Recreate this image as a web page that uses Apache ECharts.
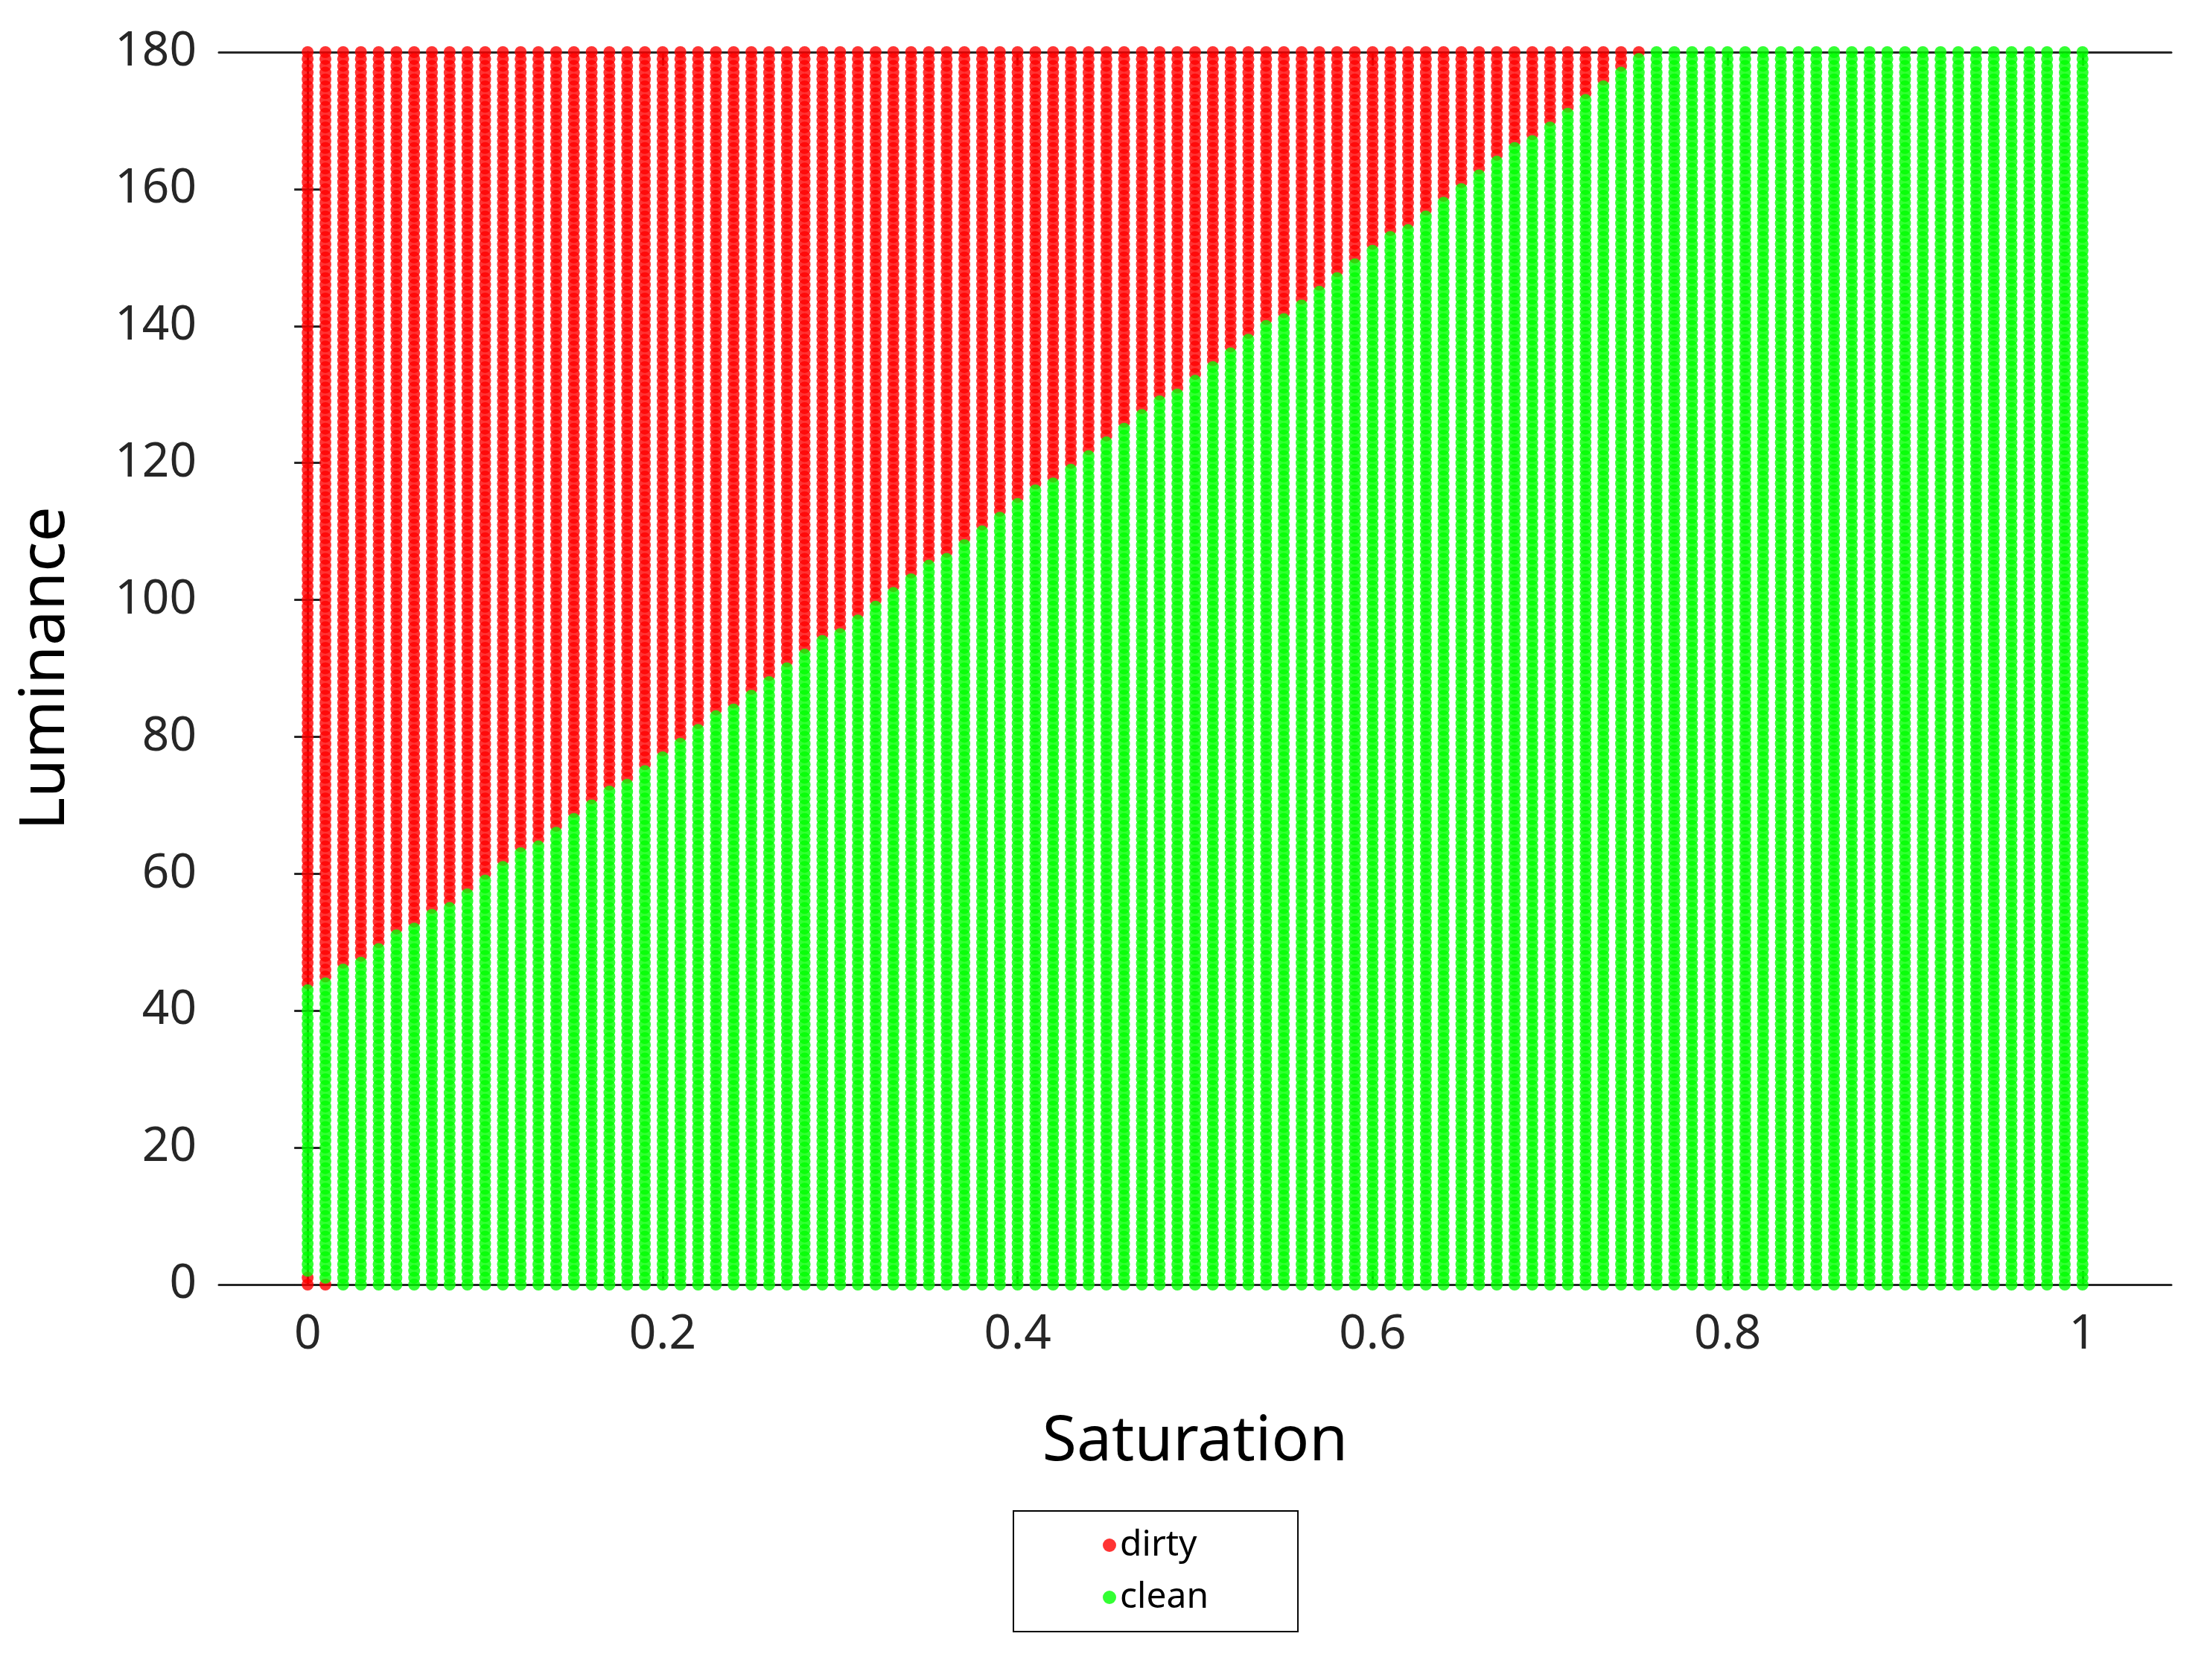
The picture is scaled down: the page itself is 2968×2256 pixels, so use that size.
<!DOCTYPE html>
<html>
<head>
<meta charset="utf-8">
<script src="https://cdn.jsdelivr.net/npm/echarts@6/dist/echarts.min.js"></script>
<style>
    html, body { margin: 0; background: #fff; }
    #main { width: 2968px; height: 2256px; }
</style>
</head>
<body>
<div id="main"></div>
<script type="text/javascript">
    // saturation columns 0, 0.01 ... 1
    var saturation = [];
    for (var i = 0; i <= 100; i++) saturation.push(+(i / 100).toFixed(2));
    // luminance sampled every 1 unit from 0 to 180
    var luminance = [];
    for (var j = 0; j <= 180; j++) luminance.push(j);

    // per column: points above this luminance are dirty
    var upperLimit = [
        43.5, 44.5, 46, 47.5, 49, 51, 52.5, 54, 55.5, 57.5,
        59.5, 61, 63, 64.5, 66.5, 68.5, 70, 72, 73.5, 75.5,
        77.5, 79, 81, 83, 84.5, 86.5, 88.5, 90, 92, 94,
        95.5, 97.5, 99.5, 101, 103, 105, 106.5, 108.5, 110.5, 112,
        114, 116, 117.5, 119.5, 121.5, 123, 125, 127, 129, 130.5,
        132.5, 134, 136, 138, 140, 141.5, 143.5, 145.5, 147, 149,
        151, 153, 154.5, 156.5, 158.5, 160, 162, 164, 166, 167.5,
        169.5, 171, 173, 175, 177, 179, 181, 181, 181, 181,
        181, 181, 181, 181, 181, 181, 181, 181, 181, 181,
        181, 181, 181, 181, 181, 181, 181, 181, 181, 181,
        181
    ];
    // per column: points below this luminance are dirty too (only first two columns)
    var lowerLimit = [1.5, 0.5];

    var xTicks = [0, 0.2, 0.4, 0.6, 0.8, 1];
    var yTicks = [0, 20, 40, 60, 80, 100, 120, 140, 160, 180];

    var dirty = [], clean = [];
    saturation.forEach(function (s, i) {
        luminance.forEach(function (l) {
            var low = lowerLimit[i] || 0;
            if (l > upperLimit[i] || l < low) dirty.push([s, l]);
            else clean.push([s, l]);
        });
    });

    var myChart = echarts.init(document.getElementById('main'));
    var font = 'Noto Sans';
    var lineCol = '#262626';

    option = {
        animation: false,
        textStyle: { fontFamily: font },
        grid: { left: 294, right: 52, top: 70, bottom: 531, containLabel: false },
        legend: {
            orient: 'vertical',
            left: 1361,
            top: 2029,
            width: 497,
            itemGap: 22,
            padding: [22, 120, 22, 120],
            borderColor: '#000',
            borderWidth: 2,
            icon: 'circle',
            itemWidth: 18,
            itemHeight: 18,
            textStyle: { fontSize: 48, color: '#000', fontFamily: font },
            data: ['dirty', 'clean']
        },
        xAxis: [{
            type: 'value', min: -0.05, max: 1.05,
            name: 'Saturation', nameLocation: 'middle', nameGap: 170,
            nameTextStyle: { fontSize: 84, color: '#000', fontFamily: font },
            axisLine: { onZero: false, lineStyle: { color: lineCol, width: 3 } },
            axisTick: { inside: true, length: 18, customValues: xTicks, lineStyle: { color: lineCol, width: 3 } },
            axisLabel: { customValues: xTicks, fontSize: 64, color: '#262626', margin: 36,
                formatter: function (v) { return String(+v.toFixed(1)); } },
            splitLine: { show: false }
        }, {
            type: 'value', min: -0.05, max: 1.05, position: 'top',
            axisLine: { onZero: false, lineStyle: { color: lineCol, width: 3 } },
            axisTick: { inside: true, length: 18, customValues: xTicks, lineStyle: { color: lineCol, width: 3 } },
            axisLabel: { show: false }, splitLine: { show: false }
        }],
        yAxis: [{
            type: 'value', min: 0, max: 180, interval: 20,
            name: 'Luminance', nameLocation: 'middle', nameGap: 190,
            nameTextStyle: { fontSize: 84, color: '#000', fontFamily: font },
            axisLine: { show: true, lineStyle: { color: lineCol, width: 3 } },
            axisTick: { inside: true, length: 18, lineStyle: { color: lineCol, width: 3 } },
            axisLabel: { fontSize: 64, color: '#262626', margin: 30 },
            splitLine: { show: false }
        }, {
            type: 'value', min: 0, max: 180, interval: 20, position: 'right',
            axisLine: { show: true, lineStyle: { color: lineCol, width: 3 } },
            axisTick: { inside: true, length: 18, lineStyle: { color: lineCol, width: 3 } },
            axisLabel: { show: false }, splitLine: { show: false }
        }],
        series: [{
            name: 'dirty', type: 'scatter', data: dirty,
            symbol: 'circle', symbolSize: 16,
            itemStyle: { color: '#ff0000' }
        }, {
            name: 'clean', type: 'scatter', data: clean,
            symbol: 'circle', symbolSize: 16,
            itemStyle: { color: '#00ff00' }
        }]
    };

    myChart.setOption(option);
</script>
</body>
</html>
